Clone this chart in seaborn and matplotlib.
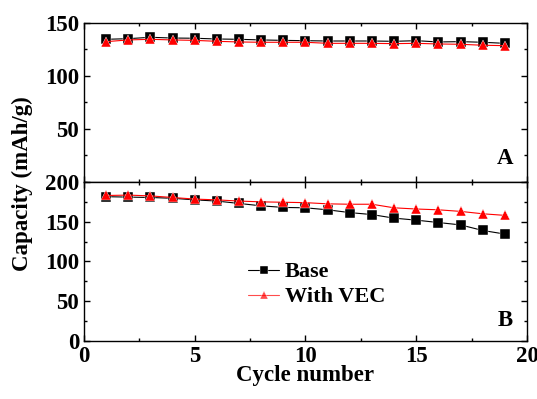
import matplotlib
matplotlib.use("Agg")
import matplotlib.pyplot as plt
import pandas as pd
import seaborn as sns
from matplotlib.ticker import MultipleLocator

# Data
cycles = list(range(1, 20))
base_a = [134.6, 135.2, 136.5, 135.8, 135.6, 134.9, 134.6, 134.0, 133.6, 133.3,
          133.0, 133.0, 133.0, 132.7, 133.3, 132.1, 132.4, 131.8, 130.8]
vec_a = [132.4, 134.0, 134.6, 134.0, 133.6, 132.7, 132.1, 131.8, 131.8, 131.8,
         130.8, 130.8, 130.8, 130.5, 130.8, 130.2, 129.9, 129.0, 128.6]
base_b = [181.5, 181.0, 180.5, 179.5, 177.5, 176.0, 173.0, 170.0, 168.0, 167.5,
          165.0, 161.5, 159.0, 154.5, 152.0, 149.0, 146.0, 139.0, 134.5]
vec_b = [183.0, 183.5, 182.5, 180.5, 178.5, 177.5, 176.0, 175.0, 174.5, 174.0,
         172.5, 172.0, 172.0, 167.5, 166.0, 165.0, 163.0, 160.0, 158.0]
series_names = ["Base", "With VEC"]

df_a = pd.DataFrame({"cycle": cycles * 2, "cap": base_a + vec_a,
                     "series": [series_names[0]] * 19 + [series_names[1]] * 19})
df_b = pd.DataFrame({"cycle": cycles * 2, "cap": base_b + vec_b,
                     "series": [series_names[0]] * 19 + [series_names[1]] * 19})

sns.set_style("ticks")
plt.rcParams["font.family"] = ["Liberation Serif", "DejaVu Serif"]
plt.rcParams["font.weight"] = "bold"
for k in ["text.color", "axes.labelcolor", "xtick.color", "ytick.color", "axes.edgecolor"]:
    plt.rcParams[k] = "black"

fig = plt.figure(figsize=(5.37, 3.99), dpi=100)
ax_a = fig.add_axes([0.1564, 0.5439, 0.825, 0.3985])
ax_b = fig.add_axes([0.1564, 0.1454, 0.825, 0.3985], sharex=ax_a)

pal = {"Base": "black", "With VEC": "red"}
mk = {"Base": "s", "With VEC": "^"}

for ax, d in [(ax_a, df_a), (ax_b, df_b)]:
    sns.lineplot(data=d, x="cycle", y="cap", hue="series", style="series",
                 palette=pal, markers=mk, dashes=False, markersize=6.5,
                 linewidth=0.8, markeredgewidth=0.3,
                 ax=ax, legend=(ax is ax_b))
    for sp in ax.spines.values():
        sp.set_linewidth(1.0)
    ax.tick_params(direction="in", which="both", top=True, right=True,
                   labelsize=16.5, width=1.0)
    ax.tick_params(which="major", length=4)
    ax.tick_params(which="minor", length=2.5)
    ax.set_xlabel("")
    ax.set_ylabel("")
    ax.xaxis.set_major_locator(MultipleLocator(5))
    ax.xaxis.set_minor_locator(MultipleLocator(2.5))

ax_b.set_xlim(0, 20)
ax_a.set_ylim(0, 150)
ax_a.set_yticks([50, 100, 150])
ax_a.yaxis.set_minor_locator(MultipleLocator(25))
ax_a.tick_params(labelbottom=False)
ax_b.set_ylim(0, 200)
ax_b.set_yticks([0, 50, 100, 150, 200])
ax_b.yaxis.set_minor_locator(MultipleLocator(25))
for ax in (ax_a, ax_b):
    for lab in ax.get_xticklabels() + ax.get_yticklabels():
        lab.set_fontweight("bold")

ax_b.set_xlabel("Cycle number", fontsize=16.5, fontweight="bold", labelpad=-1)
fig.text(0.042, 0.54, "Capacity (mAh/g)", rotation=90, fontsize=16.5,
         fontweight="bold", ha="center", va="center")

ax_a.text(0.95, 0.15, "A", transform=ax_a.transAxes, fontsize=16.5,
          fontweight="bold", ha="center", va="center")
ax_b.text(0.95, 0.13, "B", transform=ax_b.transAxes, fontsize=16.5,
          fontweight="bold", ha="center", va="center")

leg = ax_b.legend(loc="center left", bbox_to_anchor=(0.325, 0.355), frameon=False,
                  prop={"size": 16, "weight": "bold"}, handlelength=1.4,
                  handletextpad=0.25, labelspacing=0.2, markerscale=0.85)
leg.get_lines()[1].set_alpha(0.7)

fig.savefig("out.png", dpi=100)
